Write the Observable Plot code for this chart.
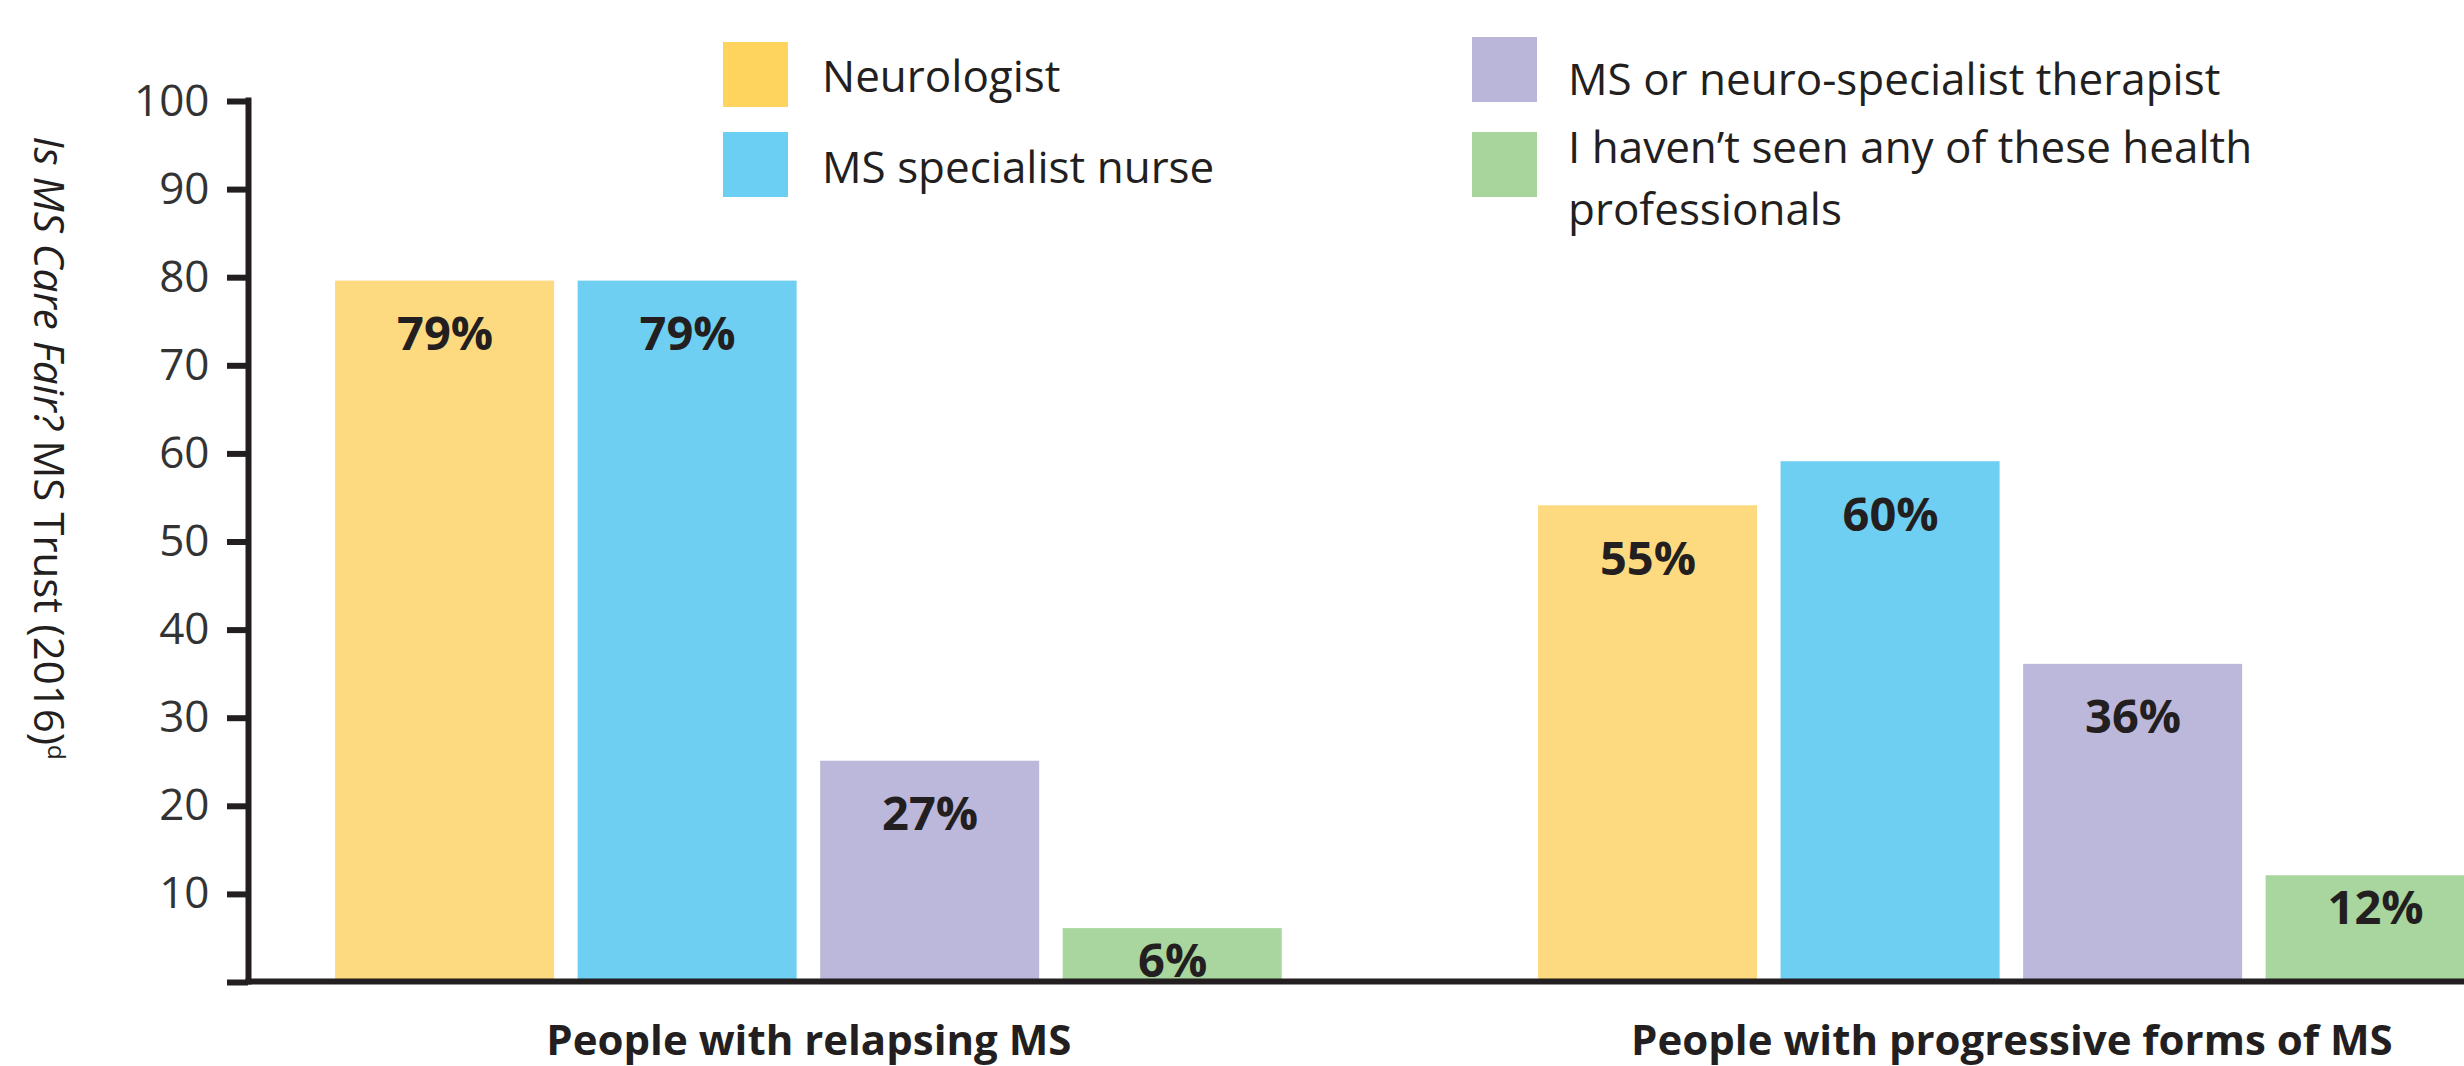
<!DOCTYPE html>
<html><head><meta charset="utf-8">
<script src="https://cdn.jsdelivr.net/npm/d3@7"></script>
<script src="https://cdn.jsdelivr.net/npm/@observablehq/plot@0.6"></script>
<style>
html,body{margin:0;padding:0;background:#fff;overflow:hidden}
#wrap{position:relative;width:2464px;height:1066px;font-family:"Open Sans",sans-serif;color:#231f20}
#wrap svg{position:absolute;left:0;top:0}
.sw{position:absolute;width:65px;height:65px}
.lt{position:absolute;font-size:44px;line-height:62px}
#ytitle{position:absolute;left:50px;top:448px;transform:translate(-50%,-50%) rotate(90deg);font-size:42px;white-space:nowrap;color:#231f20}
#ytitle sup{font-size:24px;vertical-align:14px;line-height:0}
</style></head>
<body><div id="wrap"></div>
<script>
const groups = ["People with relapsing MS", "People with progressive forms of MS"];
const professionals = ["Neurologist", "MS specialist nurse", "MS or neuro-specialist therapist", "I haven’t seen any of these health professionals"];
const relapsingValues = [79.5, 79.5, 25, 6];
const progressiveValues = [54, 59, 36, 12];
const relapsingLabels = ["79%", "79%", "27%", "6%"];
const progressiveLabels = ["55%", "60%", "36%", "12%"];
const barColors = ["#FDDA80", "#6FCFF3", "#BCB8DB", "#A9D59E"];
const legendColors = ["#FED45F", "#6BCEF3", "#BAB6DA", "#A8D59C"];
const yTicks = [0, 10, 20, 30, 40, 50, 60, 70, 80, 90, 100];

const data = [];
groups.forEach((g, gi) => professionals.forEach((p, pi) => data.push({
  group: g, prof: p,
  value: gi === 0 ? relapsingValues[pi] : progressiveValues[pi],
  label: gi === 0 ? relapsingLabels[pi] : progressiveLabels[pi]
})));
const tall = data.filter(d => d.value >= 15);
const short = data.filter(d => d.value < 15);

const labelStyle = {fx: "group", x: "prof", y: "value", text: "label", fontSize: 47, fontWeight: 700, fill: "#231f20", clip: true};

const chart = Plot.plot({
  width: 2464, height: 1066,
  marginLeft: 248, marginRight: -107.75, marginTop: 100, marginBottom: 85,
  style: {fontFamily: "'Open Sans', sans-serif", background: "transparent"},
  fx: {domain: groups, paddingInner: 0.0683, paddingOuter: 0, round: false, label: null},
  x: {domain: professionals, paddingInner: 0.097, paddingOuter: 0.359, round: false, axis: null},
  y: {domain: [0, 100], axis: null},
  color: {domain: professionals, range: barColors},
  marks: [
    Plot.barY(data, {fx: "group", x: "prof", y: "value", fill: "prof"}),
    Plot.text(tall, {...labelStyle, dy: 54}),
    Plot.text(short, {...labelStyle, dy: 33}),
    Plot.axisY({ticks: yTicks, tickFormat: d => d === 0 ? "" : String(d), tickSize: 21, tickPadding: 18, strokeWidth: 6, stroke: "#231f20", fontSize: 44, fill: "#333", dy: 1, label: null}),
    Plot.axisFx({anchor: "bottom", tickSize: 0, tickPadding: 44, fontSize: 42, fontWeight: 700, fill: "#231f20", label: null}),
    Plot.frame({anchor: "left", facet: "super", stroke: "#231f20", strokeWidth: 6}),
    Plot.frame({anchor: "bottom", facet: "super", stroke: "#231f20", strokeWidth: 6})
  ]
});

const wrap = document.getElementById("wrap");
wrap.appendChild(chart);

// legend
const legendPos = [
  {sx: 723, sy: 42, tx: 822, ty: 44},
  {sx: 723, sy: 132, tx: 822, ty: 135},
  {sx: 1472, sy: 37, tx: 1568, ty: 47},
  {sx: 1472, sy: 132, tx: 1568, ty: 115}
];
professionals.forEach((p, i) => {
  const s = document.createElement("div");
  s.className = "sw";
  s.style.left = legendPos[i].sx + "px";
  s.style.top = legendPos[i].sy + "px";
  s.style.background = legendColors[i];
  wrap.appendChild(s);
  const t = document.createElement("div");
  t.className = "lt";
  t.style.left = legendPos[i].tx + "px";
  t.style.top = legendPos[i].ty + "px";
  t.style.width = "700px";
  t.textContent = p;
  wrap.appendChild(t);
});

const yt = document.createElement("div");
yt.id = "ytitle";
yt.innerHTML = "<i>Is MS Care Fair?</i> MS Trust (2016)<sup>d</sup>";
wrap.appendChild(yt);
</script>
</body></html>
